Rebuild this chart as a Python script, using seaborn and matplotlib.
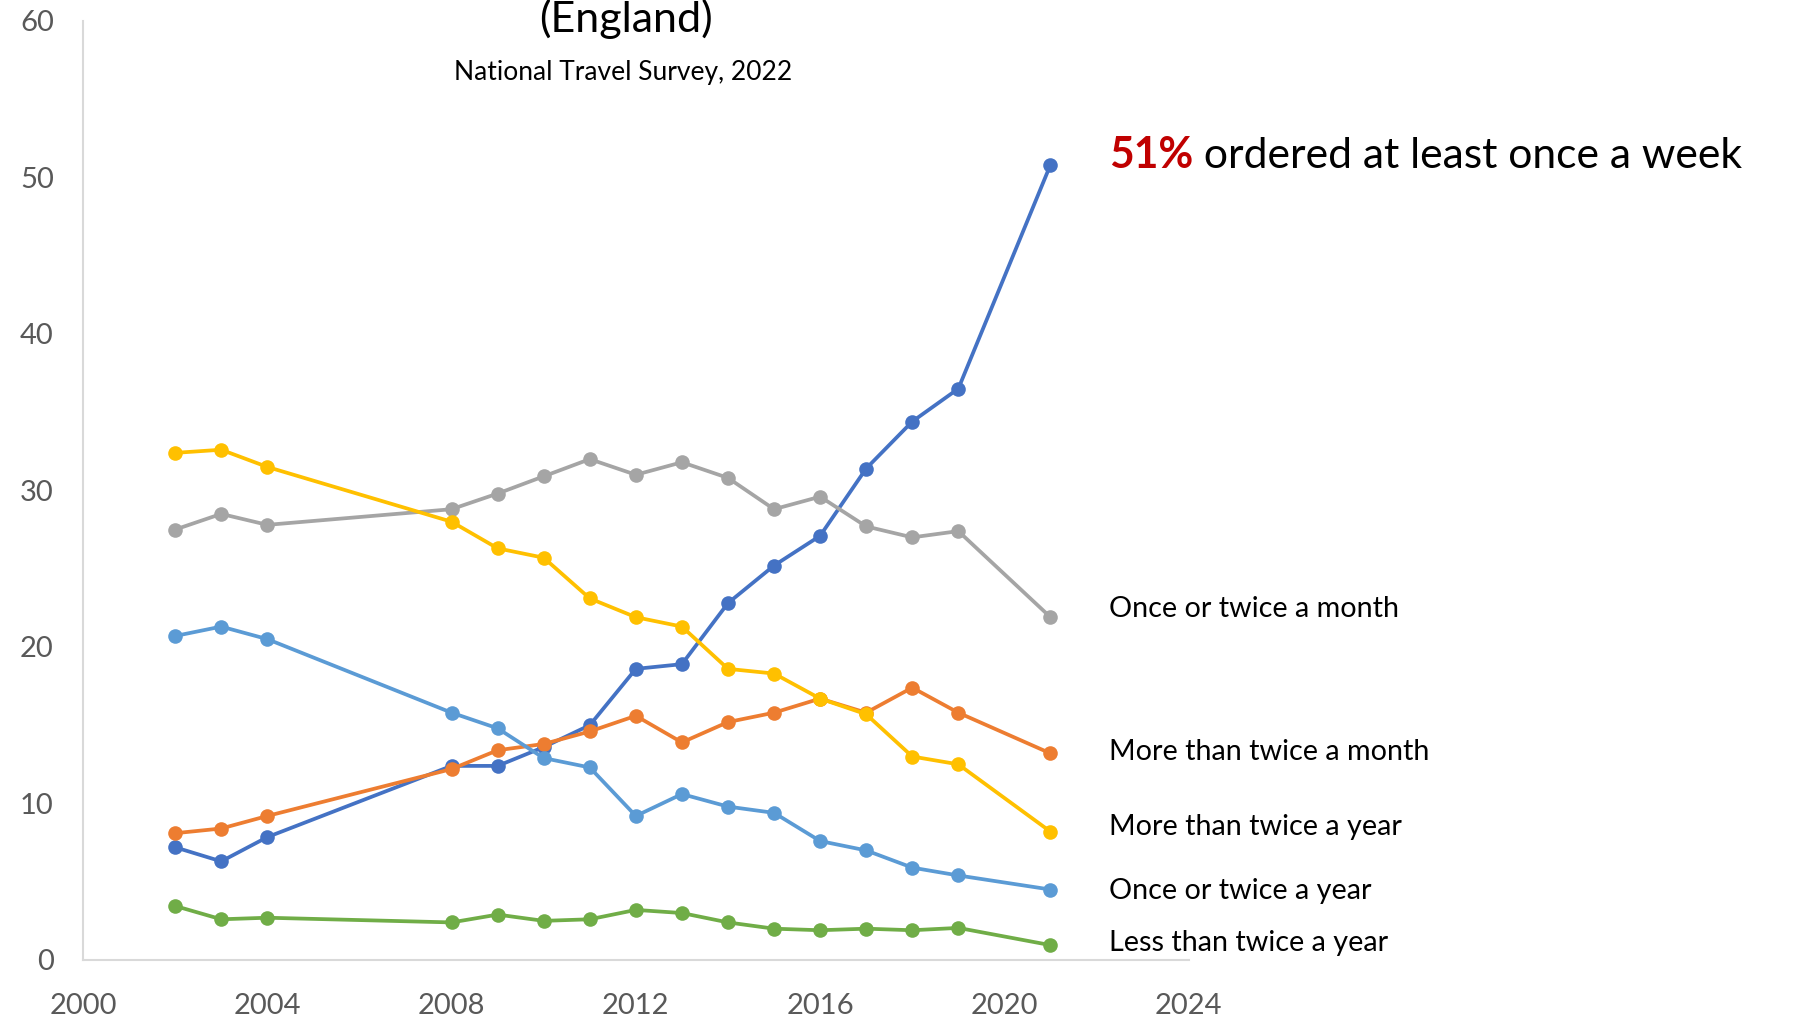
import numpy as np
import pandas as pd
import matplotlib
matplotlib.use("Agg")
import matplotlib.pyplot as plt
import seaborn as sns

# Survey years
years = [2002, 2003, 2004, 2008, 2009, 2010, 2011, 2012, 2013, 2014, 2015, 2016, 2017, 2018, 2019, 2021]

# Percentage of people by frequency of ordering online deliveries
at_least_once_a_week = [7.2, 6.3, 7.85, 12.4, 12.4, 13.6, 15.0, 18.6, 18.9, 22.8, 25.2, 27.1, 31.4, 34.4, 36.5, 50.8]
more_than_twice_a_month = [8.1, 8.4, 9.2, 12.2, 13.4, 13.8, 14.6, 15.6, 13.9, 15.2, 15.8, 16.7, 15.8, 17.4, 15.8, 13.2]
once_or_twice_a_month = [27.5, 28.5, 27.8, 28.8, 29.8, 30.9, 32.0, 31.0, 31.8, 30.8, 28.8, 29.6, 27.7, 27.0, 27.4, 21.9]
more_than_twice_a_year = [32.4, 32.6, 31.5, 28.0, 26.3, 25.7, 23.1, 21.9, 21.3, 18.6, 18.3, 16.7, 15.7, 13.0, 12.5, 8.2]
once_or_twice_a_year = [20.7, 21.3, 20.5, 15.8, 14.8, 12.9, 12.3, 9.2, 10.6, 9.8, 9.4, 7.6, 7.0, 5.9, 5.4, 4.5]
less_than_twice_a_year = [3.45, 2.6, 2.7, 2.4, 2.9, 2.5, 2.6, 3.2, 3.0, 2.4, 2.0, 1.9, 2.0, 1.9, 2.05, 0.95]

series_names = [
    "At least once a week",
    "More than twice a month",
    "Once or twice a month",
    "More than twice a year",
    "Once or twice a year",
    "Less than twice a year",
]
series_values = [
    at_least_once_a_week,
    more_than_twice_a_month,
    once_or_twice_a_month,
    more_than_twice_a_year,
    once_or_twice_a_year,
    less_than_twice_a_year,
]
colors = ["#4472C4", "#ED7D31", "#A5A5A5", "#FFC000", "#5B9BD5", "#70AD47"]

x_ticks = [2000, 2004, 2008, 2012, 2016, 2020, 2024]
y_ticks = [0, 10, 20, 30, 40, 50, 60]

# Long-form table for seaborn
df = pd.DataFrame(
    [(y, v, name) for name, vals in zip(series_names, series_values) for y, v in zip(years, vals)],
    columns=["year", "percent", "frequency"],
)

sns.set_theme(style="white")
plt.rcParams["font.family"] = ["Lato", "DejaVu Sans"]

fig = plt.figure(figsize=(18.01, 10.23), dpi=100)
ax = fig.add_axes([0.0461, 0.0616, 0.6139, 0.918])

sns.lineplot(
    data=df, x="year", y="percent", hue="frequency",
    hue_order=series_names, palette=dict(zip(series_names, colors)),
    marker="o", markersize=10.5, markeredgewidth=0, linewidth=2.7,
    legend=False, ax=ax, clip_on=False,
)

ax.set_xlim(2000, 2024)
ax.set_ylim(0, 60)
ax.set_xticks(x_ticks)
ax.set_yticks(y_ticks)
ax.set_xlabel("")
ax.set_ylabel("")
ax.tick_params(axis="both", length=0, labelsize=21, labelcolor="#595959")
ax.tick_params(axis="y", pad=21)
ax.tick_params(axis="x", pad=24)
for side in ("top", "right"):
    ax.spines[side].set_visible(False)
for side in ("left", "bottom"):
    ax.spines[side].set_color("#D9D9D9")
    ax.spines[side].set_linewidth(1.5)
ax.grid(False)

# Titles
fig.text(0.3476, 1 - 32 / 1023, "(England)", ha="center", va="baseline", fontsize=31, color="black")
fig.text(0.3459, 1 - 80 / 1023, "National Travel Survey, 2022", ha="center", va="baseline", fontsize=19, color="black")

# Direct labels at the right of the lines
label_x = 2022.27
label_texts = [
    "Once or twice a month",
    "More than twice a month",
    "More than twice a year",
    "Once or twice a year",
    "Less than twice a year",
]
label_y = [22.45, 13.28, 8.5, 4.4, 1.1]
for txt, yy in zip(label_texts, label_y):
    ax.text(label_x, yy, txt, ha="left", va="center", fontsize=20.7, color="black", clip_on=False)

headline_value = f"{round(at_least_once_a_week[-1]):d}%"
t1 = ax.text(label_x, 51.4, headline_value, ha="left", va="center", fontsize=30.7,
             fontweight="bold", color="#C00000", clip_on=False)
ax.annotate(" ordered at least once a week", xy=(1, 0), xycoords=t1, ha="left", va="bottom",
            fontsize=30.7, color="black", annotation_clip=False)

fig.savefig("out.png", dpi=100, facecolor="white")
